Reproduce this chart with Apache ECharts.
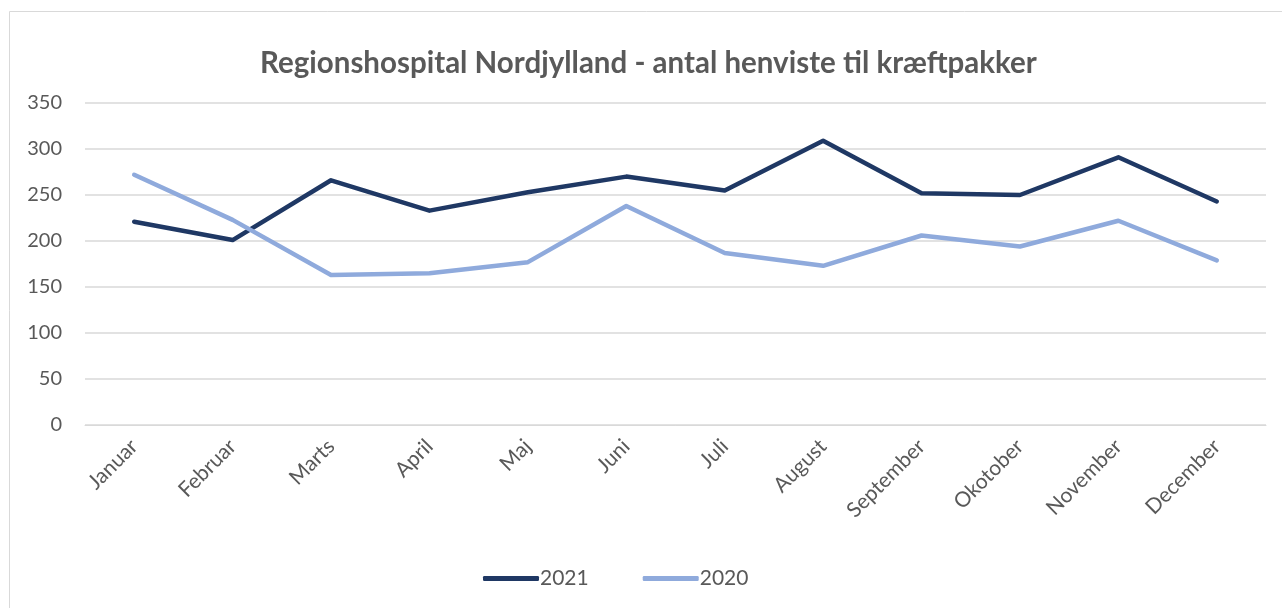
<!DOCTYPE html>
<html>
<head>
<meta charset="utf-8">
<script src="https://cdn.jsdelivr.net/npm/echarts@6/dist/echarts.min.js"></script>
<style>
  html, body { margin: 0; padding: 0; background: #fff; }
  #chart { width: 1282px; height: 608px; }
</style>
</head>
<body>
<div id="chart"></div>
<script>
// 月份
const months = ['Januar', 'Februar', 'Marts', 'April', 'Maj', 'Juni', 'Juli', 'August', 'September', 'Okotober', 'November', 'December'];
// antal henviste
const values2021 = [221, 201, 266, 233, 253, 270, 255, 309, 252, 250, 291, 243];
const values2020 = [272, 223, 163, 165, 177, 238, 187, 173, 206, 194, 222, 179];

const chart = echarts.init(document.getElementById('chart'));
const textColor = '#595959';
const font = 'Lato, "Open Sans", sans-serif';

chart.setOption({
  animation: false,
  graphic: [
    {
      type: 'rect',
      shape: { x: 9.5, y: 11.5, width: 1400, height: 800 },
      style: { fill: 'none', stroke: '#d9d9d9', lineWidth: 1 },
      silent: true
    }
  ],
  title: {
    text: 'Regionshospital Nordjylland - antal henviste til kræftpakker',
    left: 255,
    top: 43,
    textStyle: { color: textColor, fontSize: 29.5, fontWeight: 'bold', fontFamily: font }
  },
  legend: {
    bottom: 14,
    left: 478,
    itemWidth: 56,
    itemHeight: 5,
    itemGap: 54,
    icon: 'roundRect',
    textStyle: { color: textColor, fontSize: 21, fontFamily: font, padding: [0, 0, 0, -4] },
    data: ['2021', '2020']
  },
  grid: { left: 85, right: 16, top: 103, bottom: 183 },
  xAxis: {
    type: 'category',
    data: months,
    boundaryGap: true,
    axisLine: { show: true, lineStyle: { color: '#d9d9d9', width: 1 } },
    axisTick: { show: false },
    axisLabel: { rotate: 45, color: textColor, fontSize: 21, fontFamily: font, margin: 18 }
  },
  yAxis: {
    type: 'value',
    min: 0,
    max: 350,
    interval: 50,
    axisLine: { show: false },
    axisTick: { show: false },
    splitLine: { lineStyle: { color: '#d9d9d9', width: 1.5 } },
    axisLabel: { color: textColor, fontSize: 20, fontFamily: font, margin: 23 }
  },
  series: [
    {
      name: '2021',
      type: 'line',
      data: values2021,
      symbol: 'none',
      lineStyle: { color: '#1f3864', width: 4.5, cap: 'round', join: 'round' },
      itemStyle: { color: '#1f3864' }
    },
    {
      name: '2020',
      type: 'line',
      data: values2020,
      symbol: 'none',
      lineStyle: { color: '#8faadc', width: 4.5, cap: 'round', join: 'round' },
      itemStyle: { color: '#8faadc' }
    }
  ]
});
</script>
</body>
</html>
